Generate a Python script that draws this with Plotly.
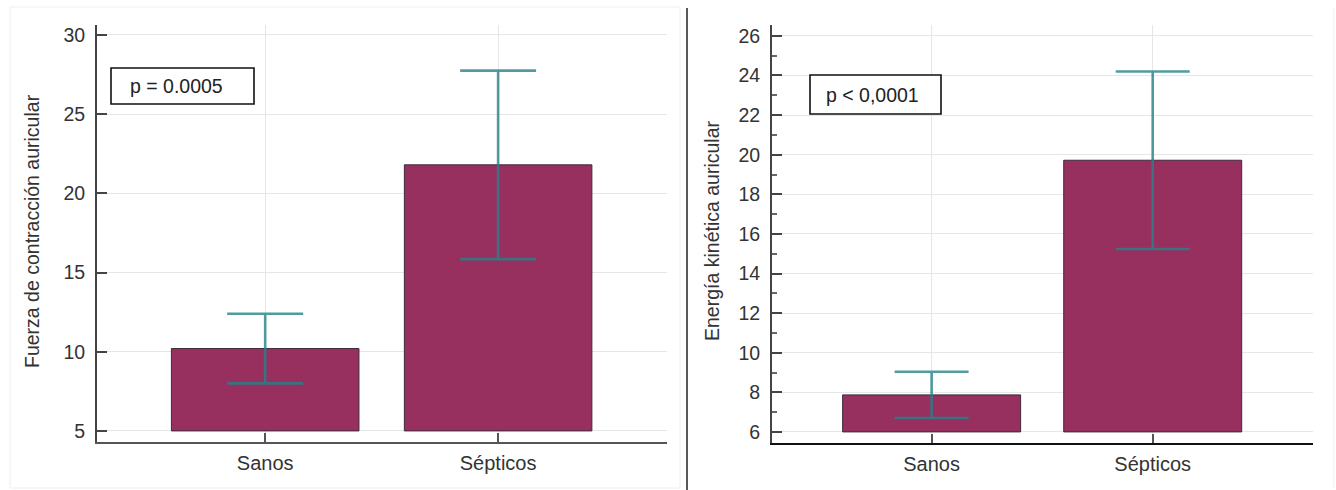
import plotly.graph_objects as go

W, H = 1336, 490

categories = ["Sanos", "Sépticos"]

# Left panel: Fuerza de contracción auricular
fuerza_mean = [10.2, 21.8]
fuerza_err = [2.2, 5.95]
fuerza_base = 5
fuerza_ticks = [5, 10, 15, 20, 25, 30]

# Right panel: Energía kinética auricular
energia_mean = [7.87, 19.72]
energia_err = [1.17, 4.48]
energia_base = 6
energia_ticks = [6, 8, 10, 12, 14, 16, 18, 20, 22, 24, 26]

p_left = "p = 0.0005"
p_right = "p < 0,0001"
ytitle_left = "Fuerza de contracción auricular"
ytitle_right = "Energía kinética auricular"

BAR_COLOR = "#97305f"
BAR_LINE = "#3d2a38"
ERR_COLOR = "rgba(38,130,136,0.8)"
FONT = "Liberation Sans, Arial, sans-serif"
TXT = "#333333"


def px(x):
    return x / W


def py(y):
    return 1 - y / H


fig = go.Figure()

fig.add_trace(go.Bar(
    x=categories, y=[m - fuerza_base for m in fuerza_mean], base=fuerza_base,
    width=0.805, marker=dict(color=BAR_COLOR, line=dict(color=BAR_LINE, width=1)),
    xaxis="x", yaxis="y", showlegend=False))
fig.add_trace(go.Scatter(
    x=categories, y=fuerza_mean, mode="markers",
    marker=dict(size=1, color="rgba(0,0,0,0)"),
    error_y=dict(type="data", array=fuerza_err, color=ERR_COLOR, thickness=2.6, width=38),
    xaxis="x", yaxis="y", showlegend=False))

fig.add_trace(go.Bar(
    x=categories, y=[m - energia_base for m in energia_mean], base=energia_base,
    width=0.805, marker=dict(color=BAR_COLOR, line=dict(color=BAR_LINE, width=1)),
    xaxis="x2", yaxis="y2", showlegend=False))
fig.add_trace(go.Scatter(
    x=categories, y=energia_mean, mode="markers",
    marker=dict(size=1, color="rgba(0,0,0,0)"),
    error_y=dict(type="data", array=energia_err, color=ERR_COLOR, thickness=2.6, width=37),
    xaxis="x2", yaxis="y2", showlegend=False))

common_x = dict(
    type="category", showgrid=True, gridcolor="#e6e6e6", gridwidth=1,
    ticks="inside", ticklen=9, tickcolor="#555555", tickwidth=1.5,
    showline=True, linewidth=2, zeroline=False,
    tickfont=dict(family=FONT, size=20, color=TXT), ticklabelstandoff=2,
    range=[-0.722, 1.725], fixedrange=True)

fig.update_layout(
    width=W, height=H, margin=dict(l=0, r=0, t=0, b=0),
    paper_bgcolor="white", plot_bgcolor="white",
    barmode="overlay",
    xaxis=dict(domain=[px(97), px(667)], anchor="y", linecolor="#555555", **common_x),
    xaxis2=dict(domain=[px(772), px(1313)], anchor="y2", linecolor="#111111", **common_x),
    yaxis=dict(
        domain=[py(442), py(25)], anchor="x", range=[4.3, 30.63],
        tickvals=fuerza_ticks, showgrid=True, gridcolor="#e6e6e6", zeroline=False,
        ticks="inside", ticklen=10, tickcolor="#444444", tickwidth=1.5,
        showline=True, linecolor="#444444", linewidth=2,
        tickfont=dict(family=FONT, size=19.5, color=TXT), ticklabelstandoff=6),
    yaxis2=dict(
        domain=[py(443), py(25)], anchor="x2", range=[5.44, 26.55],
        tickvals=energia_ticks, showgrid=True, gridcolor="#e6e6e6", zeroline=False,
        ticks="inside", ticklen=10, tickcolor="#444444", tickwidth=1.5,
        minor=dict(dtick=1, ticks="inside", ticklen=5, tickcolor="#666666", showgrid=False),
        showline=True, linecolor="#444444", linewidth=2,
        tickfont=dict(family=FONT, size=19.5, color=TXT), ticklabelstandoff=6),
)

annotations = [
    dict(text=ytitle_left, x=px(32), y=py(231), xref="paper", yref="paper",
         textangle=-90, showarrow=False, xanchor="center", yanchor="middle",
         font=dict(family=FONT, size=19.5, color=TXT)),
    dict(text=ytitle_right, x=px(712), y=py(231), xref="paper", yref="paper",
         textangle=-90, showarrow=False, xanchor="center", yanchor="middle",
         font=dict(family=FONT, size=19.5, color=TXT)),
    dict(text=p_left, x=px(176), y=py(86), xref="paper", yref="paper",
         showarrow=False, xanchor="center", yanchor="middle",
         font=dict(family=FONT, size=19.5, color="#222222")),
    dict(text=p_right, x=px(872), y=py(95), xref="paper", yref="paper",
         showarrow=False, xanchor="center", yanchor="middle",
         font=dict(family=FONT, size=19.5, color="#222222")),
]
fig.update_layout(annotations=annotations)

shapes = [
    # p-value boxes
    dict(type="rect", xref="paper", yref="paper", x0=px(111), x1=px(254), y0=py(104), y1=py(68),
         line=dict(color="#111111", width=1.6), fillcolor="white", layer="above"),
    dict(type="rect", xref="paper", yref="paper", x0=px(810), x1=px(941), y0=py(114), y1=py(75),
         line=dict(color="#111111", width=1.6), fillcolor="white", layer="above"),
    # separator between panels
    dict(type="line", xref="paper", yref="paper", x0=px(687), x1=px(687), y0=0, y1=py(8),
         line=dict(color="#222222", width=1.5)),
    # faint outer frame lines
    dict(type="rect", xref="paper", yref="paper", x0=px(10), x1=px(680), y0=py(488), y1=py(7),
         line=dict(color="#efefef", width=1), layer="below"),
    dict(type="line", xref="paper", yref="paper", x0=px(1334), x1=px(1334), y0=py(488), y1=py(7),
         line=dict(color="#efefef", width=1), layer="below"),
]
fig.update_layout(shapes=shapes)

fig.write_html("out.html", config={"displayModeBar": False},
               post_script="document.body.style.margin='0px';document.body.style.overflow='hidden';")
